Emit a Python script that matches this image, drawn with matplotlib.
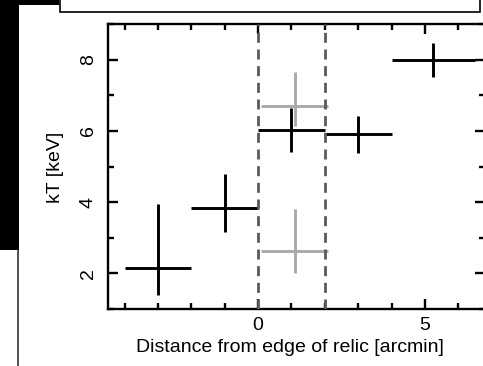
import matplotlib
matplotlib.use("Agg")
import matplotlib.pyplot as plt
from matplotlib.patches import Rectangle
from matplotlib.lines import Line2D
from matplotlib.ticker import MultipleLocator

plt.rcParams['font.family'] = ['Liberation Sans', 'DejaVu Sans']

# Black (main) temperature profile
x_black = [-3.0, -1.0, 1.0, 3.0, 5.25]
xerr_black = [1.0, 1.0, 1.0, 1.0, 1.25]
y_black = [2.16, 3.84, 6.02, 5.90, 8.00]
yerr_black_lo = [0.78, 0.68, 0.62, 0.53, 0.48]
yerr_black_hi = [1.78, 0.94, 0.63, 0.53, 0.48]

# Grey (alternative) measurements in the relic region
x_grey = [1.1, 1.1]
xerr_grey = [1.0, 1.0]
y_grey = [6.69, 2.64]
yerr_grey_lo = [0.54, 0.63]
yerr_grey_hi = [0.97, 1.16]

# Relic edges
relic_edges = [0.0, 2.0]

W, H = 483, 366
fig = plt.figure(figsize=(W / 100, H / 100), dpi=100)

def px(x0, y0, x1, y1):
    return [x0 / W, 1 - y1 / H, (x1 - x0) / W, (y1 - y0) / H]

ax = fig.add_axes(px(108, 24, 485, 309))

ax.errorbar(x_grey, y_grey, xerr=xerr_grey, yerr=[yerr_grey_lo, yerr_grey_hi],
            fmt='none', ecolor='#aaaaaa', elinewidth=2.1, capsize=0, zorder=2)
ax.errorbar(x_black, y_black, xerr=xerr_black, yerr=[yerr_black_lo, yerr_black_hi],
            fmt='none', ecolor='black', elinewidth=2.1, capsize=0, zorder=3)
for e in relic_edges:
    ax.axvline(e, color='#5a5a5a', lw=2.0, linestyle=(0, (3.6, 2.4)), zorder=4)

ax.set_xlim(-4.5, 6.8)
ax.set_ylim(1, 9)
ax.xaxis.set_major_locator(MultipleLocator(5))
ax.xaxis.set_minor_locator(MultipleLocator(1))
ax.yaxis.set_major_locator(MultipleLocator(2))
ax.yaxis.set_minor_locator(MultipleLocator(1))
ax.tick_params(which='both', direction='in', top=True, right=True, width=1.7,
               labelsize=14, colors='black')
ax.tick_params(axis='x', which='major', pad=6)
ax.tick_params(axis='y', which='major', pad=8)
ax.tick_params(which='major', length=7)
ax.tick_params(which='minor', length=4.5)
for lab in ax.get_yticklabels():
    lab.set_rotation(90)
    lab.set_va('center')
for s in ax.spines.values():
    s.set_linewidth(1.7)

ax.set_xlabel('Distance from edge of relic [arcmin]', fontsize=14)
ax.set_ylabel('kT [keV]', fontsize=14)
ax.xaxis.set_label_coords((290 - 108) / (485 - 108), -(347 - 309) / (309 - 24), transform=ax.transAxes)
ax.xaxis.label.set_va('center')
ax.yaxis.set_label_coords(-(108 - 55.5) / (485 - 108), (309 - 167) / (309 - 24), transform=ax.transAxes)
ax.yaxis.label.set_va('center')

# Surrounding screenshot elements
fig.patches.append(Rectangle((0, 1 - 250 / H), 18.5 / W, 250 / H, transform=fig.transFigure,
                             facecolor='black', edgecolor='none', zorder=0))
fig.patches.append(Rectangle((0, 1 - 5 / H), 59 / W, 5 / H, transform=fig.transFigure,
                             facecolor='black', edgecolor='none', zorder=0))
fig.patches.append(Rectangle((59.5 / W, 1 - 12 / H), (480 - 59.5) / W, 14 / H, transform=fig.transFigure,
                             facecolor='white', edgecolor='black', lw=1.2, zorder=1))
fig.lines.append(Line2D([18.3 / W, 18.3 / W], [0, 1 - 250 / H], transform=fig.transFigure,
                        color='#333333', lw=1.2))

fig.savefig('out.png', dpi=100)
